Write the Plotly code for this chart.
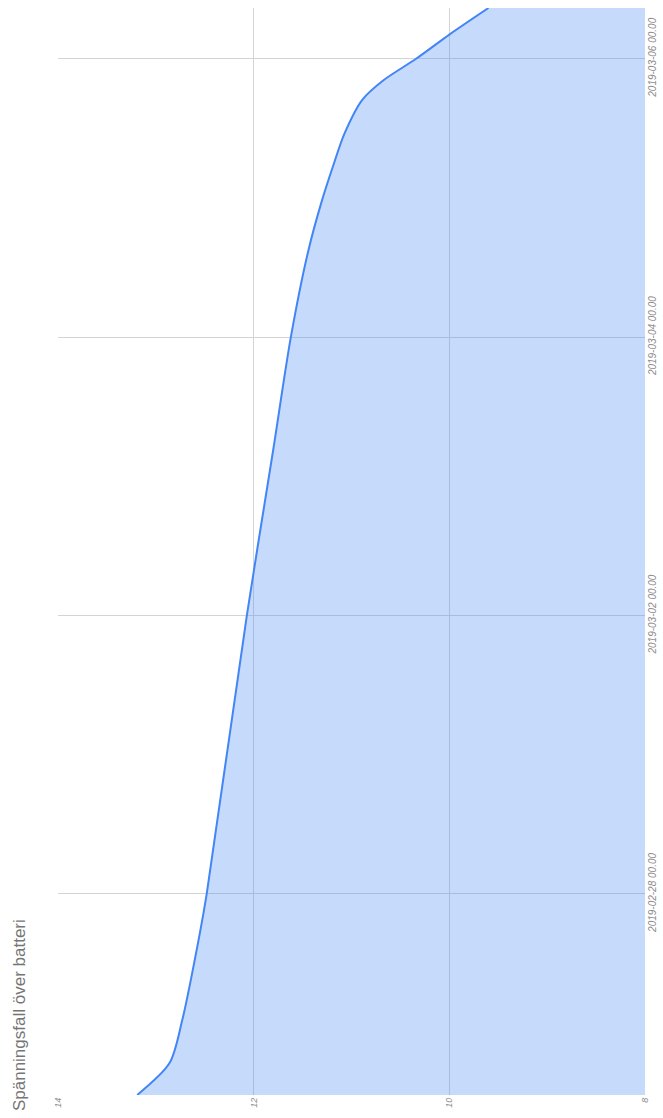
import plotly.graph_objects as go

title_text = "Spänningsfall över batteri"

timestamps = [
    "2019-02-26 13:20", "2019-02-26 18:50", "2019-02-27 02:15", "2019-02-27 17:15",
    "2019-02-28 00:00", "2019-03-02 00:00", "2019-03-03 04:35", "2019-03-04 00:00",
    "2019-03-04 15:00", "2019-03-04 23:40", "2019-03-05 05:25", "2019-03-05 11:10",
    "2019-03-05 16:55", "2019-03-05 20:20", "2019-03-06 00:00", "2019-03-06 04:10",
    "2019-03-06 08:45",
]
volts = [
    13.19, 12.86, 12.73, 12.55,
    12.48, 12.07, 11.80, 11.62,
    11.44, 11.30, 11.19, 11.07,
    10.89, 10.67, 10.34, 10.00,
    9.60,
]

date_ticks = ["2019-02-28", "2019-03-02", "2019-03-04", "2019-03-06"]
date_tick_labels = ["2019-02-28 00.00", "2019-03-02 00.00", "2019-03-04 00.00", "2019-03-06 00.00"]
volt_ticks = [14, 12, 10, 8]
volt_range = [14, 8]
time_range = ["2019-02-26 13:20", "2019-03-06 08:45"]

FONT = "Liberation Sans, Arial, sans-serif"
GRID = "#d4d4d4"
TICK_COLOR = "#8a8a8a"

fig = go.Figure()
fig.add_trace(go.Scatter(
    x=volts, y=timestamps,
    mode="lines",
    line=dict(color="#4285f4", width=2, shape="spline", smoothing=0.8),
    fill="tozerox",
    fillcolor="rgba(66,133,244,0.30)",
    hoverinfo="skip",
    showlegend=False,
))

fig.update_layout(
    width=663, height=1118,
    margin=dict(l=58, r=18, t=8, b=23),
    paper_bgcolor="white", plot_bgcolor="white",
    font=dict(family=FONT),
    xaxis=dict(
        range=volt_range, automargin=False,
        tickmode="array", tickvals=volt_ticks, ticktext=[str(v) for v in volt_ticks],
        tickangle=-90,
        tickfont=dict(size=9, color=TICK_COLOR, family=FONT, style="italic"),
        showgrid=True, gridcolor=GRID, gridwidth=1,
        zeroline=False, showline=False, ticks="",
    ),
    yaxis=dict(
        type="date", range=time_range, side="right", automargin=False,
        tickmode="array", tickvals=date_ticks, ticktext=date_tick_labels,
        tickangle=-90,
        tickfont=dict(size=10, color=TICK_COLOR, family=FONT, style="italic"),
        showgrid=True, gridcolor=GRID, gridwidth=1,
        zeroline=False, showline=False, ticks="",
    ),
    annotations=[dict(
        text=title_text, textangle=-90,
        xref="paper", yref="paper",
        x=-0.0664, y=-0.0166, xanchor="center", yanchor="bottom",
        showarrow=False,
        font=dict(size=17, color="#757575", family=FONT),
    )],
)

fig.write_html(
    "out.html",
    config={"displayModeBar": False},
    post_script="document.body.style.margin='0';document.body.style.overflow='hidden';",
)
